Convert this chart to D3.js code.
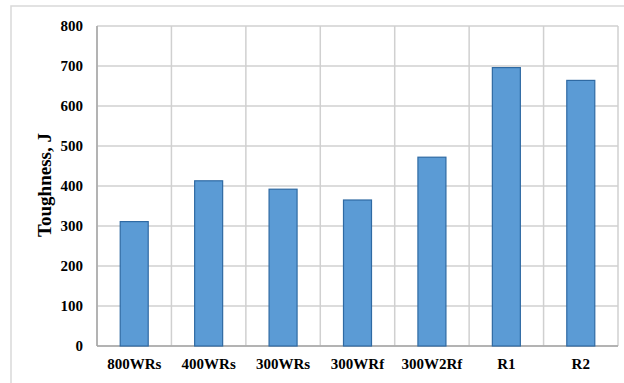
<!DOCTYPE html>
<html><head><meta charset="utf-8">
<script src="https://cdn.jsdelivr.net/npm/d3@7"></script>
<style>body{margin:0;background:#fff}svg{display:block}</style>
</head><body>
<script>
const categories = ["800WRs","400WRs","300WRs","300WRf","300W2Rf","R1","R2"];
const toughness = [311, 413, 392, 365, 472, 696, 664];
const yTicks = [0,100,200,300,400,500,600,700,800];

const W = 624, H = 383;
const svg = d3.select("body").append("svg").attr("width", W).attr("height", H);
const font = "'Liberation Serif','Times New Roman',serif";

// outer frame
svg.append("rect").attr("x", 11).attr("y", 6).attr("width", 630).attr("height", 400)
  .attr("fill", "none").attr("stroke", "#d9d9d9").attr("stroke-width", 1.5);

const m = {l: 97, r: 618, t: 26, b: 346};
const x = d3.scaleBand().domain(categories).range([m.l, m.r]).paddingInner(0).paddingOuter(0);
const y = d3.scaleLinear().domain([0, 800]).range([m.b, m.t]);

const g = svg.append("g");
g.selectAll("line.h").data(yTicks).join("line")
  .attr("x1", m.l).attr("x2", m.r).attr("y1", d => y(d)).attr("y2", d => y(d))
  .attr("stroke", "#d0d0d0").attr("stroke-width", 1.5);
const bounds = categories.map(c => x(c)).concat([m.r]);
g.selectAll("line.v").data(bounds).join("line")
  .attr("x1", d => d).attr("x2", d => d).attr("y1", m.t).attr("y2", m.b)
  .attr("stroke", "#d0d0d0").attr("stroke-width", 1.5);

svg.append("line").attr("x1", m.l).attr("x2", m.l).attr("y1", m.t).attr("y2", m.b)
  .attr("stroke", "#a6a6a6").attr("stroke-width", 1.5);
svg.append("line").attr("x1", m.l).attr("x2", m.r).attr("y1", m.b).attr("y2", m.b)
  .attr("stroke", "#a6a6a6").attr("stroke-width", 1.5);

const bw = 28;
svg.selectAll("rect.bar").data(categories).join("rect")
  .attr("x", d => x(d) + x.bandwidth()/2 - bw/2)
  .attr("y", (d,i) => y(toughness[i]))
  .attr("width", bw)
  .attr("height", (d,i) => y(0) - y(toughness[i]))
  .attr("fill", "#5b9bd5").attr("stroke", "#2f6aa3").attr("stroke-width", 1.2);

const yAxis = d3.axisLeft(y).tickValues(yTicks).tickSize(0).tickPadding(14);
const ya = svg.append("g").attr("transform", `translate(${m.l},0)`).call(yAxis);
ya.select(".domain").remove();
ya.selectAll("text").attr("font-family", font).attr("font-weight", "bold")
  .attr("font-size", 15).attr("fill", "#000");

const xAxis = d3.axisBottom(x).tickSize(0).tickPadding(12);
const xa = svg.append("g").attr("transform", `translate(0,${m.b})`).call(xAxis);
xa.select(".domain").remove();
xa.selectAll("text").attr("font-family", font).attr("font-weight", "bold")
  .attr("font-size", 15).attr("fill", "#000");

svg.append("text").attr("transform", "translate(51,185) rotate(-90)")
  .attr("text-anchor", "middle").attr("font-family", font).attr("font-weight", "bold")
  .attr("font-size", 19).attr("fill", "#000").text("Toughness, J");
</script>
</body></html>
